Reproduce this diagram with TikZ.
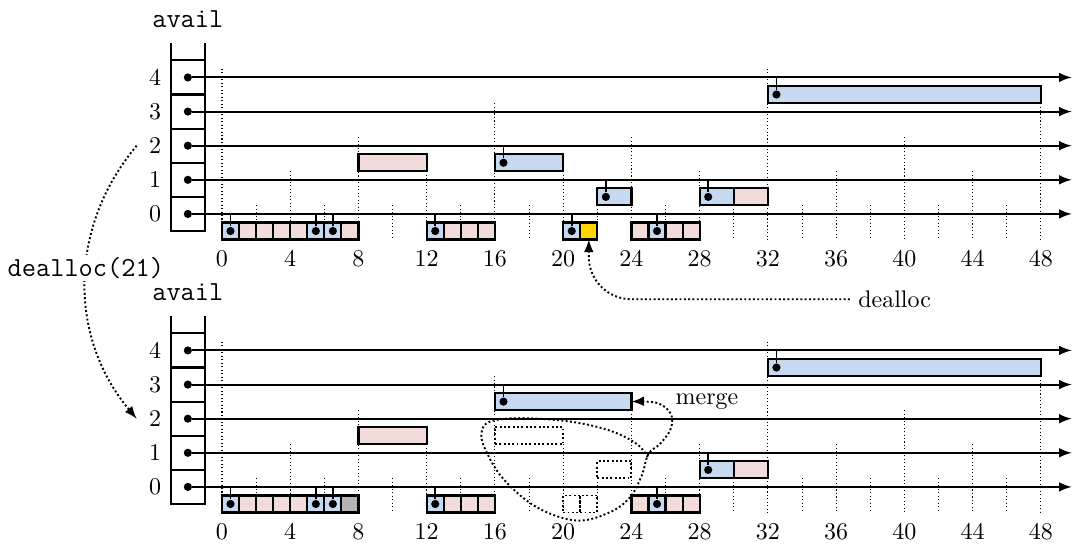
\documentclass[tikz,border=0pt]{standalone}
\usepackage{tikz}
\usetikzlibrary{arrows}

\definecolor{freeblk}{RGB}{198,217,240}
\definecolor{usedblk}{RGB}{242,220,219}
\definecolor{justfreed}{RGB}{255,213,0}
\definecolor{oldblk}{RGB}{180,180,180}

\begin{document}
\begin{tikzpicture}[x=0.25cm,y=0.25cm,>=latex,
  blk/.style={draw,line width=0.9pt,anchor=south west,inner sep=0pt,outer sep=0pt,minimum height=0.25cm},
  ghost/.style={draw,thick,densely dotted,anchor=south west,inner sep=0pt,outer sep=0pt,minimum height=0.25cm},
  ptr/.style={circle,fill,inner sep=0pt,minimum size=3.4pt},
  slot/.style={draw,line width=0.9pt,inner sep=0pt,minimum width=0.5cm,minimum height=0.5cm},
  code/.style={font=\fontsize{11.5}{14}\selectfont\ttfamily},
  note/.style={thick,densely dotted,->}]
\def\u{0.25cm}
\useasboundingbox (-13.01,-19.46) rectangle (49.88,12.54);

\foreach \p/\dy in {t/0,b/-16} {
\begin{scope}[shift={(0,\dy)}]
  \foreach \x in {0,2,...,48} {
    \pgfmathsetmacro\ytop{mod(\x,32)==0 ? 8.5 : (mod(\x,16)==0 ? 6.5 : (mod(\x,8)==0 ? 4.5 : (mod(\x,4)==0 ? 2.5 : 0.5)))}
    \draw[densely dotted,line width=0.45pt] (\x,\ytop) -- (\x,-1.5);
  }
  \foreach \x in {0,4,...,48}
    \node[below] (tick-\p-\x) at (\x,-1.65) {$\x$};
  \node[above,code] (avail-\p) at (-2,10.4) {avail};
  \draw[line width=0.9pt] (-3,10) -- (-3,-1) -- (-1,-1) -- (-1,10);
  \foreach \k in {0,...,4} {
    \node[slot] (slot-\p-\k) at (-2,2*\k) {};
    \node[left] (lvl-\p-\k) at (slot-\p-\k.west) {$\k$};
    \node[ptr] (head-\p-\k) at (slot-\p-\k) {};
    \coordinate (tail-\p-\k) at (49.8,2*\k);
    \draw[thick,->] (head-\p-\k) -- (tail-\p-\k);
  }
\end{scope}
}

\foreach \x/\k in {1/0,2/0,3/0,4/0,7/0,13/0,14/0,15/0,24/0,26/0,27/0,30/1,8/2} {
  \pgfmathsetmacro\s{2^\k}
  \node[blk,fill=usedblk,minimum width=\s*\u] (used-t-\x) at (\x,2*\k-1.5) {};
}
\foreach \x/\k in {0/0,5/0,6/0,12/0,20/0,25/0,22/1,28/1,16/2,32/4} {
  \pgfmathsetmacro\s{2^\k}
  \node[blk,fill=freeblk,minimum width=\s*\u] (free-t-\x) at (\x,2*\k-1.5) {};
  \node[ptr] (dot-t-\x) at (\x+0.5,2*\k-1) {};
  \coordinate (link-t-\x) at (\x+0.5,2*\k);
  \draw[thick] (link-t-\x) -- (dot-t-\x);
}
\node[blk,fill=justfreed,minimum width=\u] (freed) at (21,-1.5) {};
\node[anchor=west] (dealloc) at (36.8,-5) {dealloc};
\draw[note,rounded corners=0.625cm] (dealloc.west) -| (freed.south);

\coordinate (before) at (-5,4);
\coordinate (after) at (-5,-12);
\draw[note] (before) to[bend right=40] node[pos=0.45,fill=white,inner sep=1pt,code] {dealloc(21)} (after);

\begin{scope}[shift={(0,-16)}]
\foreach \x/\k in {1/0,2/0,3/0,4/0,13/0,14/0,15/0,24/0,26/0,27/0,30/1,8/2} {
  \pgfmathsetmacro\s{2^\k}
  \node[blk,fill=usedblk,minimum width=\s*\u] (used-b-\x) at (\x,2*\k-1.5) {};
}
\node[blk,fill=oldblk,minimum width=\u] (used-b-7) at (7,-1.5) {};
\foreach \x/\k in {0/0,5/0,6/0,12/0,25/0,28/1,16/3,32/4} {
  \pgfmathsetmacro\s{2^\k}
  \node[blk,fill=freeblk,minimum width=\s*\u] (free-b-\x) at (\x,2*\k-1.5) {};
  \node[ptr] (dot-b-\x) at (\x+0.5,2*\k-1) {};
  \coordinate (link-b-\x) at (\x+0.5,2*\k);
  \draw[thick] (link-b-\x) -- (dot-b-\x);
}
\foreach \x/\k in {20/0,21/0,22/1,16/2} {
  \pgfmathsetmacro\s{2^\k}
  \node[ghost,minimum width=\s*\u] (ghost-\x) at (\x,2*\k-1.5) {};
}
\node (merge) at (28.43,4.98) {merge};
\draw[note] plot[smooth,tension=0.6] coordinates {(24.95,1.75) (24.31,2.52) (22.74,3.30) (20.40,3.83)
  (17.47,4.03) (15.71,3.83) (15.22,3.21) (15.42,2.23) (16.49,0.47) (18.45,-1.19) (20.79,-1.97)
  (22.74,-1.48) (23.92,-0.60) (24.60,0.66) (24.99,1.93) (25.67,2.52) (26.3,3.4) (26.3,4.3)
  (25.5,4.92) (free-b-16.east)};
\end{scope}
\end{tikzpicture}
\end{document}
